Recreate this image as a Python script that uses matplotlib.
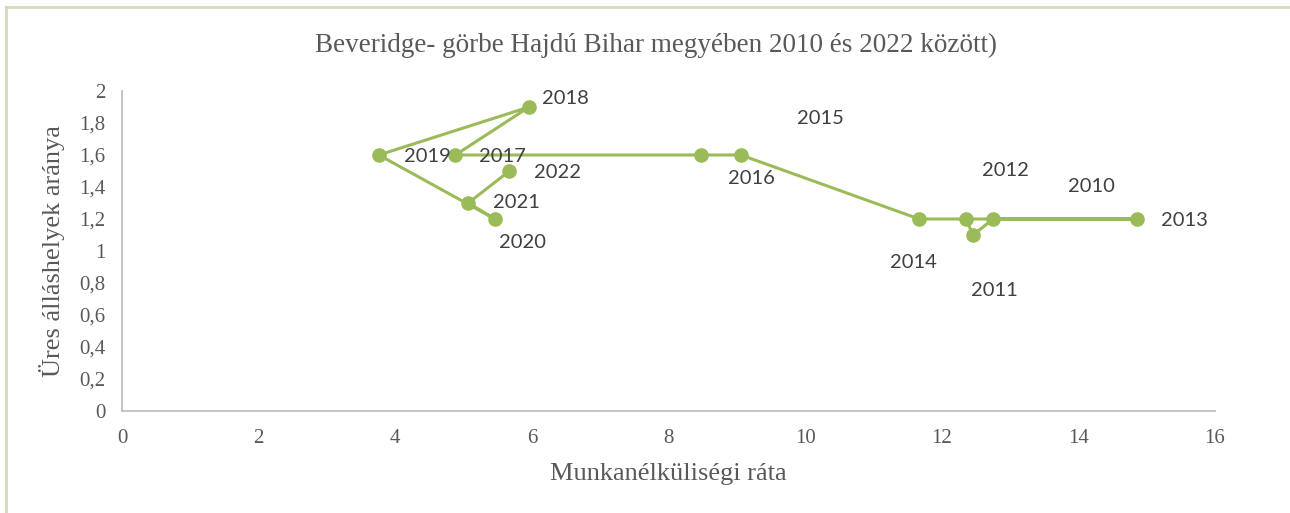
import matplotlib
matplotlib.use("Agg")
import matplotlib.pyplot as plt
from matplotlib.lines import Line2D

# Beveridge-görbe adatai (év, munkanélküliségi ráta, üres álláshelyek aránya)
years = ['2010', '2011', '2012', '2013', '2014', '2015', '2016',
         '2017', '2018', '2019', '2020', '2021', '2022']
unemployment = [12.35, 12.46, 12.75, 14.86, 11.67, 9.06, 8.48,
                4.88, 5.96, 3.76, 5.46, 5.07, 5.67]
vacancy = [1.2, 1.1, 1.2, 1.2, 1.2, 1.6, 1.6,
           1.6, 1.9, 1.6, 1.2, 1.3, 1.5]

# címkék eltolása pixelben (ahogy az eredeti ábrán elhúzva állnak)
label_offsets = [(126, 32), (21, -55), (12, 48), (47, -1), (-6, -44),
                 (80, 36), (50, -23), (47, -1), (36, 8), (49, -1),
                 (28, -24), (48, 0), (48, -1)]

green = '#9bbb59'
gray = '#595959'

fig = plt.figure(figsize=(12.9, 5.13), dpi=100)
ax = fig.add_axes([122 / 1290, 1 - 411 / 513, 1093 / 1290, 320 / 513])

ax.plot(unemployment, vacancy, '-o', color=green, lw=2.2, ms=9.5)

for yr, x, y, off in zip(years, unemployment, vacancy, label_offsets):
    ax.annotate(yr, (x, y), xytext=off, textcoords='offset pixels',
                ha='center', va='center', fontsize=14.5, family='Lato',
                color='#404040')

ax.set_xlim(0, 16)
ax.set_ylim(0, 2)
ax.set_xticks(range(0, 17, 2))
ax.set_yticks([i / 10 for i in range(0, 21, 2)])
ax.set_yticklabels(['0', '0,2', '0,4', '0,6', '0,8', '1', '1,2', '1,4',
                    '1,6', '1,8', '2'])
ax.tick_params(length=0, labelsize=15, labelcolor=gray)
ax.tick_params(axis='y', pad=12)
ax.tick_params(axis='x', pad=13)
for lbl in ax.get_xticklabels() + ax.get_yticklabels():
    lbl.set_family('Liberation Serif')

for s in ['top', 'right']:
    ax.spines[s].set_visible(False)
for s in ['left', 'bottom']:
    ax.spines[s].set_color('#bfbfbf')
    ax.spines[s].set_linewidth(1.3)

ax.set_xlabel('Munkanélküliségi ráta', family='Liberation Serif',
              fontsize=19, color=gray, va='center')
ax.xaxis.set_label_coords(0.5, (411 - 474) / 320)
ax.set_ylabel('Üres álláshelyek aránya', family='Liberation Serif',
              fontsize=19, color=gray, va='center')
ax.yaxis.set_label_coords((52 - 122) / 1093, 0.5)

fig.text(656 / 1290, 1 - 45 / 513,
         'Beveridge- görbe Hajdú Bihar megyében 2010 és 2022 között)',
         ha='center', va='center', family='Liberation Serif',
         fontsize=19.5, color=gray)

# diagram keret
fig.add_artist(Line2D([6 / 1290, 1], [1 - 6.5 / 513, 1 - 6.5 / 513],
                      color='#d9d7bd', lw=2))
fig.add_artist(Line2D([6 / 1290, 6 / 1290], [0, 1 - 6.5 / 513],
                      color='#d9d7bd', lw=2))

fig.savefig('out.png', dpi=100)
